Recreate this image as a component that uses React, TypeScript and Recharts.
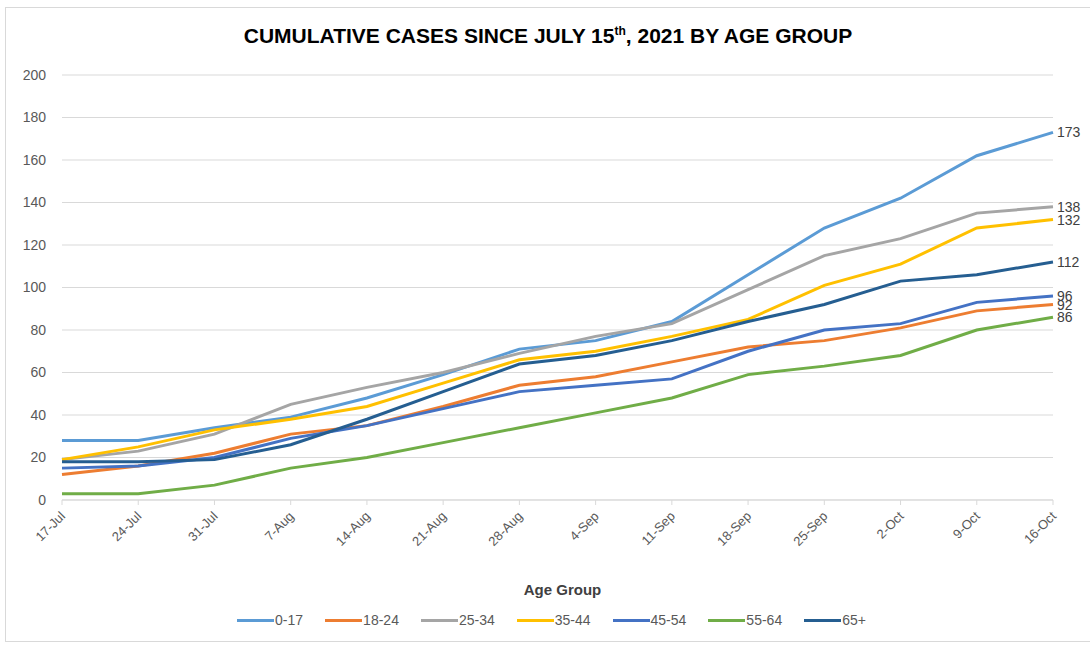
import React from "react";
import { LineChart, Line, XAxis, YAxis, CartesianGrid } from "recharts";

const dates = [
  "17-Jul", "24-Jul", "31-Jul", "7-Aug", "14-Aug", "21-Aug", "28-Aug",
  "4-Sep", "11-Sep", "18-Sep", "25-Sep", "2-Oct", "9-Oct", "16-Oct",
];

const age0to17 = [28, 28, 34, 39, 48, 59, 71, 75, 84, 106, 128, 142, 162, 173];
const age18to24 = [12, 16, 22, 31, 35, 44, 54, 58, 65, 72, 75, 81, 89, 92];
const age25to34 = [19, 23, 31, 45, 53, 60, 69, 77, 83, 99, 115, 123, 135, 138];
const age35to44 = [19, 25, 33, 38, 44, 55, 66, 70, 77, 85, 101, 111, 128, 132];
const age45to54 = [15, 16, 20, 29, 35, 43, 51, 54, 57, 70, 80, 83, 93, 96];
const age55to64 = [3, 3, 7, 15, 20, 27, 34, 41, 48, 59, 63, 68, 80, 86];
const age65plus = [18, 18, 19, 26, 38, 51, 64, 68, 75, 84, 92, 103, 106, 112];

const yTicks = [0, 20, 40, 60, 80, 100, 120, 140, 160, 180, 200];

const series = [
  { name: "0-17", values: age0to17, color: "#5B9BD5" },
  { name: "18-24", values: age18to24, color: "#ED7D31" },
  { name: "25-34", values: age25to34, color: "#A5A5A5" },
  { name: "35-44", values: age35to44, color: "#FFC000" },
  { name: "45-54", values: age45to54, color: "#4472C4" },
  { name: "55-64", values: age55to64, color: "#70AD47" },
  { name: "65+", values: age65plus, color: "#255E91" },
];

const data = dates.map((d, i) => {
  const row: Record<string, string | number> = { date: d };
  series.forEach((s) => {
    row[s.name] = s.values[i];
  });
  return row;
});

const FONT = '"Liberation Sans", Arial, sans-serif';
const last = dates.length - 1;

function DateTick(props: any) {
  const { x, y, payload } = props;
  return (
    <text
      x={x + 4}
      y={y + 10}
      transform={`rotate(-45, ${x + 4}, ${y + 10})`}
      textAnchor="end"
      fontSize={13}
      fontFamily={FONT}
      fill="#595959"
    >
      {payload.value}
    </text>
  );
}

function EndLabel(props: any) {
  const { x, y, value, index } = props;
  if (index !== last) return null;
  return (
    <text x={x + 4} y={y + 5} fontSize={14} fontFamily={FONT} fill="#404040">
      {value}
    </text>
  );
}

export default function App() {
  return (
    <div style={{ position: "absolute", left: 0, top: 0, width: 1090, height: 647, background: "#fff" }}>
      <div
        style={{
          position: "absolute",
          left: 5,
          top: 7,
          width: 1100,
          height: 633,
          border: "1px solid #D9D9D9",
        }}
      />
      <div
        style={{
          position: "absolute",
          left: 0,
          top: 24,
          width: 1096,
          textAlign: "center",
          fontFamily: FONT,
          fontWeight: "bold",
          fontSize: 21,
          color: "#000",
        }}
      >
        CUMULATIVE CASES SINCE JULY 15<sup style={{ fontSize: 12 }}>th</sup>, 2021 BY AGE GROUP
      </div>
      <div style={{ position: "absolute", left: 0, top: 0 }}>
        <LineChart width={1090} height={647} data={data} margin={{ top: 75, right: 37, left: 12, bottom: 0 }}>
          <CartesianGrid vertical={false} stroke="#D9D9D9" />
          <XAxis
            dataKey="date"
            height={147}
            interval={0}
            axisLine={{ stroke: "#D9D9D9" }}
            tickLine={{ stroke: "#D9D9D9" }}
            tickSize={5}
            tick={<DateTick />}
          />
          <YAxis
            domain={[0, 200]}
            ticks={yTicks}
            width={50}
            axisLine={false}
            tickLine={false}
            tickMargin={10}
            tick={{ fontSize: 14, fontFamily: FONT, fill: "#595959" }}
          />
          {series.map((s) => (
            <Line
              key={s.name}
              dataKey={s.name}
              stroke={s.color}
              strokeWidth={3}
              dot={false}
              type="linear"
              isAnimationActive={false}
              label={<EndLabel />}
            />
          ))}
        </LineChart>
      </div>
      <div
        style={{
          position: "absolute",
          left: 0,
          top: 581,
          width: 1125,
          textAlign: "center",
          fontFamily: FONT,
          fontWeight: "bold",
          fontSize: 15,
          color: "#404040",
        }}
      >
        Age Group
      </div>
      <div
        style={{
          position: "absolute",
          left: 0,
          top: 612,
          width: 1103,
          display: "flex",
          justifyContent: "center",
          gap: 22,
          fontFamily: FONT,
          fontSize: 14,
          color: "#595959",
        }}
      >
        {series.map((s) => (
          <div key={s.name} style={{ display: "flex", alignItems: "center" }}>
            <div style={{ width: 37, height: 3, background: s.color, marginRight: 1 }} />
            <span>{s.name}</span>
          </div>
        ))}
      </div>
    </div>
  );
}
